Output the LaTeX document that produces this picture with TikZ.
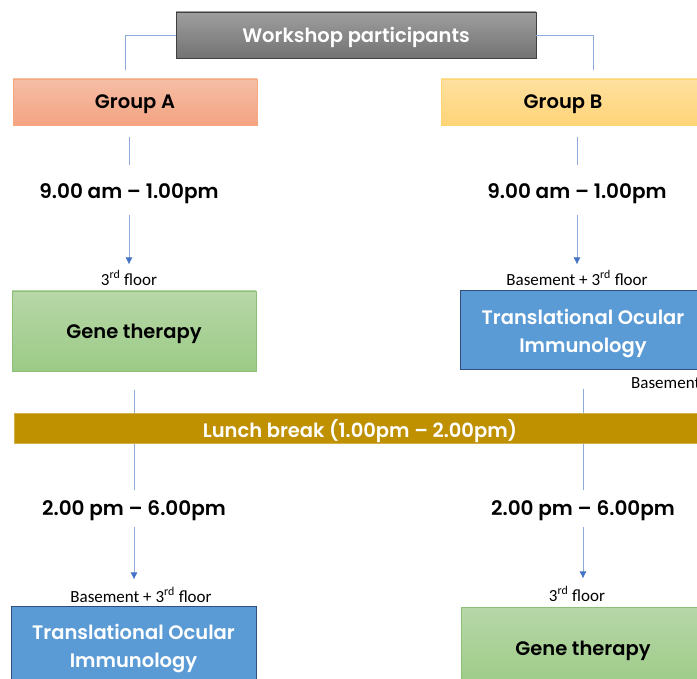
\documentclass[tikz,border=0pt]{standalone}
\usepackage{fontspec}
\setmainfont{Poppins}[BoldFont={Poppins SemiBold}]
\newfontfamily\labfont{Carlito}
\usetikzlibrary{calc,arrows.meta}

\definecolor{linkblue}{HTML}{8EAADB}
\definecolor{tipblue}{HTML}{4472C4}
\definecolor{toiblue}{HTML}{5B9BD5}
\definecolor{toiedge}{HTML}{2F4F7F}
\definecolor{lunchgold}{HTML}{BF9000}

\begin{document}
\begin{tikzpicture}[x=1pt,y=-1pt,
	box/.style={draw, rectangle, inner sep=0pt, text depth=0pt, font=\fontsize{19.5}{24}\selectfont\bfseries, align=center},
	greybox/.style={box, top color=black!38, bottom color=black!55, draw=black!75, text=white},
	groupa/.style={box, top color={rgb,255:red,245;green,190;blue,166}, bottom color={rgb,255:red,244;green,163;blue,130}, draw={rgb,255:red,246;green,168;blue,128}},
	groupb/.style={box, top color={rgb,255:red,255;green,224;blue,160}, bottom color={rgb,255:red,255;green,212;blue,120}, draw={rgb,255:red,255;green,214;blue,110}},
	genebox/.style={box, top color={rgb,255:red,183;green,215;blue,168}, bottom color={rgb,255:red,156;green,203;blue,134}, draw={rgb,255:red,140;green,192;blue,118}},
	toibox/.style={box, fill=toiblue, draw=toiedge, text=white, line width=1pt},
	lunchbar/.style={box, fill=lunchgold, draw=lunchgold!70!white, text=white},
	timetxt/.style={inner sep=0pt, font=\fontsize{20}{24}\selectfont\bfseries},
	floortxt/.style={inner sep=0pt, font=\labfont\fontsize{17}{20}\selectfont},
	link/.style={draw=linkblue, line width=0.8pt},
	arrow/.style={link, -{Latex[length=7pt,width=7pt,color=tipblue]}}
]
\useasboundingbox (0,0) rectangle (697,679);
\clip (0,0) rectangle (697,679);

% header and groups
\node[greybox, minimum width=360, minimum height=46] (wp) at (356,35) {Workshop participants};
\node[groupa, minimum width=244, minimum height=46] (ga) at (135,102) {Group A};
\node[groupb, minimum width=259, minimum height=46] (gb) at (570.5,102) {Group B\hspace{15pt}};
\coordinate (ja) at (125,70);
\coordinate (jb) at (593,70);
\draw[link] (wp.west) -| (ja);
\draw[link] (wp.east) -| (jb);

% morning
\node[timetxt] (tA) at (129,194) {9.00 am -- 1.00pm};
\node[timetxt] (tB) at (577,194) {9.00 am -- 1.00pm};
\node[floortxt] (fA) at (129,278) {3\textsuperscript{rd} floor};
\node[floortxt] (fB) at (577,278) {Basement + 3\textsuperscript{rd} floor};
\node[genebox, minimum width=244, minimum height=80] (gtA) at (134,331) {Gene therapy};
\node[toibox, minimum width=246, minimum height=79] (toB) at (583,330.5) {Translational Ocular\\[4pt]Immunology};
\node[floortxt, anchor=west] (bB) at (631,383) {Basement};

\draw[link] ([yshift=-12pt]ga.south -| tA) -- ([yshift=19pt]tA.north);
\draw[link] ([yshift=-12pt]gb.south -| tB) -- ([yshift=19pt]tB.north);
\draw[arrow] ([yshift=-11pt]tA.south) -- ([yshift=6pt]fA.north);
\draw[arrow] ([yshift=-11pt]tB.south) -- ([yshift=6pt]fB.north);

% afternoon
\node[timetxt] (tA2) at (134,511) {2.00 pm -- 6.00pm};
\node[timetxt] (tB2) at (583,511) {2.00 pm -- 6.00pm};
\node[floortxt] (fA2) at (141,595) {Basement + 3\textsuperscript{rd} floor};
\node[floortxt] (fB2) at (577,594) {3\textsuperscript{rd} floor};
\node[toibox, minimum width=245, minimum height=79] (toA) at (133.5,645.5) {Translational Ocular\\[4pt]Immunology};
\node[genebox, minimum width=244, minimum height=82] (gtB) at (583,648) {Gene therapy};

\draw[link] ([yshift=-19pt]gtA.south -| tA2) -- ([yshift=11pt]tA2.north);
\draw[link] ([yshift=-19pt]toB.south -| tB2) -- ([yshift=11pt]tB2.north);
\draw[arrow] ([yshift=-6pt]tA2.south) -- ([yshift=8pt]fA2.north -| tA2);
\draw[arrow] ([yshift=-6pt]tB2.south) -- ([yshift=8pt]fB2.north -| tB2);

% lunch
\node[lunchbar, minimum width=692, minimum height=30] (lunch) at (360,428) {Lunch break (1.00pm -- 2.00pm)};
\end{tikzpicture}
\end{document}
